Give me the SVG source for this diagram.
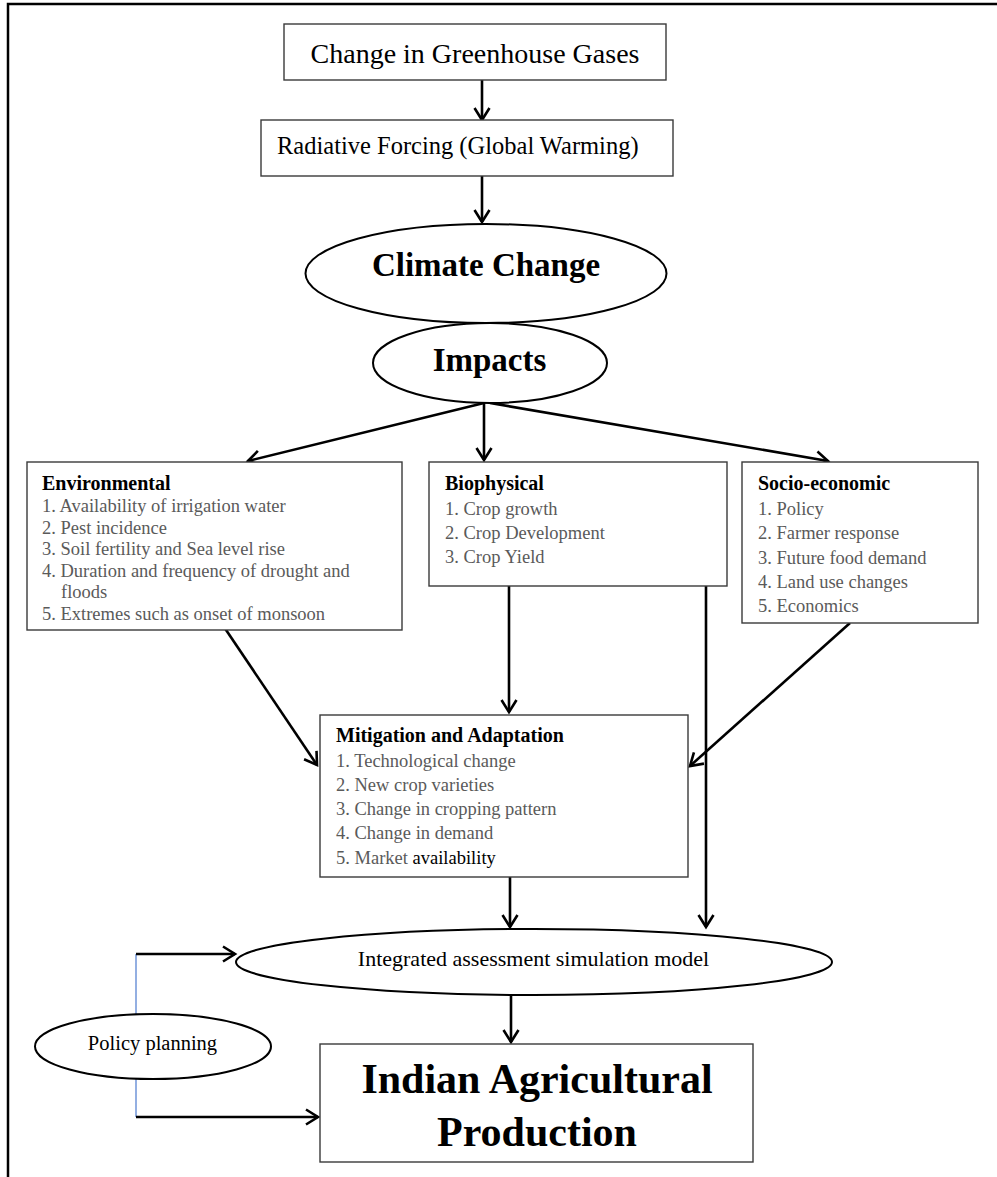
<svg xmlns="http://www.w3.org/2000/svg" width="997" height="1177" viewBox="0 0 997 1177">
<style>
.bx{fill:#fff;stroke:#3a3a3a;stroke-width:1.4}
.el{fill:#fff;stroke:#000;stroke-width:2}
.t{font-family:"Liberation Serif","Times New Roman",serif;fill:#000}
.h{font-family:"Liberation Serif","Times New Roman",serif;font-weight:bold;fill:#000}
.i{font-family:"Liberation Serif","Times New Roman",serif;font-size:18.5px;fill:#5a5a5a}
.c{fill:none;stroke:#000;stroke-width:2.6}
</style>
<defs>
<marker id="ah" markerUnits="userSpaceOnUse" markerWidth="18" markerHeight="20" refX="14" refY="9" orient="auto">
<path d="M2,1.5 L14,9 L2,16.5" fill="none" stroke="#000" stroke-width="2.6"/>
</marker>
</defs>
<rect width="997" height="1177" fill="#fff"/>
<g id="frame">
<path d="M8,1177 L8,4 L997,4" fill="none" stroke="#000" stroke-width="2.5"/>
</g>
<g id="connectors">
<line class="c" x1="482" y1="80" x2="482" y2="120" marker-end="url(#ah)"/>
<line class="c" x1="482" y1="176" x2="482" y2="222" marker-end="url(#ah)"/>
<line class="c" x1="484" y1="403" x2="248" y2="461" marker-end="url(#ah)"/>
<line class="c" x1="484" y1="403" x2="484" y2="460" marker-end="url(#ah)"/>
<line class="c" x1="490" y1="403" x2="828" y2="461" marker-end="url(#ah)"/>
<line class="c" x1="220" y1="621" x2="317" y2="765" marker-end="url(#ah)"/>
<line class="c" x1="509" y1="586" x2="509" y2="712" marker-end="url(#ah)"/>
<line class="c" x1="706" y1="586" x2="706" y2="927" marker-end="url(#ah)"/>
<line class="c" x1="850" y1="623" x2="690" y2="766" marker-end="url(#ah)"/>
<line class="c" x1="510" y1="877" x2="510" y2="927" marker-end="url(#ah)"/>
<line class="c" x1="511" y1="983" x2="511" y2="1042" marker-end="url(#ah)"/>
<line x1="136" y1="954" x2="136" y2="1117" stroke="#6f95d8" stroke-width="1.5"/>
<line class="c" x1="136" y1="954" x2="235" y2="954" marker-end="url(#ah)"/>
<line class="c" x1="136" y1="1117" x2="318" y2="1117" marker-end="url(#ah)"/>
</g>
<g id="ghg">
<rect class="bx" x="284" y="24" width="382" height="56"/>
<text class="t" x="475" y="63" font-size="28" text-anchor="middle">Change in Greenhouse Gases</text>
</g>
<g id="radiative">
<rect class="bx" x="261" y="120" width="412" height="56"/>
<text class="t" x="277" y="154" font-size="24.5">Radiative Forcing (Global Warming)</text>
</g>
<g id="climate">
<ellipse class="el" cx="486" cy="273.5" rx="180.5" ry="49.5"/>
<text class="h" x="486" y="276" font-size="33" text-anchor="middle">Climate Change</text>
</g>
<g id="impacts">
<ellipse class="el" cx="490" cy="363" rx="117" ry="40"/>
<text class="h" x="489.5" y="371" font-size="33" text-anchor="middle">Impacts</text>
</g>
<g id="environmental">
<rect class="bx" x="27" y="462" width="375" height="168"/>
<text class="h" x="42" y="490" font-size="20">Environmental</text>
<text class="i" x="42" y="512">1. Availability of irrigation water</text>
<text class="i" x="42" y="533.5">2. Pest incidence</text>
<text class="i" x="42" y="555">3. Soil fertility and Sea level rise</text>
<text class="i" x="42" y="576.5">4. Duration and frequency of drought and</text>
<text class="i" x="61" y="598">floods</text>
<text class="i" x="42" y="619.5">5. Extremes such as onset of monsoon</text>
</g>
<g id="biophysical">
<rect class="bx" x="429" y="462" width="298" height="124"/>
<text class="h" x="445" y="490" font-size="20">Biophysical</text>
<text class="i" x="445" y="515">1. Crop growth</text>
<text class="i" x="445" y="539">2. Crop Development</text>
<text class="i" x="445" y="563">3. Crop Yield</text>
</g>
<g id="socioeconomic">
<rect class="bx" x="742" y="462" width="236" height="161"/>
<text class="h" x="758" y="490" font-size="20">Socio-economic</text>
<text class="i" x="758" y="515">1. Policy</text>
<text class="i" x="758" y="539">2. Farmer response</text>
<text class="i" x="758" y="564">3. Future food demand</text>
<text class="i" x="758" y="588">4. Land use changes</text>
<text class="i" x="758" y="612">5. Economics</text>
</g>
<g id="mitigation">
<rect class="bx" x="320" y="715" width="368" height="162"/>
<text class="h" x="336" y="742" font-size="20">Mitigation and Adaptation</text>
<text class="i" x="336" y="767">1. Technological change</text>
<text class="i" x="336" y="791">2. New crop varieties</text>
<text class="i" x="336" y="815">3. Change in cropping pattern</text>
<text class="i" x="336" y="839">4. Change in demand</text>
<text class="i" x="336" y="864">5. Market <tspan fill="#000">availability</tspan></text>
</g>
<g id="integrated">
<ellipse class="el" cx="534" cy="962" rx="298" ry="33"/>
<text class="t" x="533.5" y="966" font-size="22" text-anchor="middle">Integrated assessment simulation model</text>
</g>
<g id="policy">
<ellipse class="el" cx="153" cy="1046.5" rx="118" ry="32.5"/>
<text class="t" x="152.5" y="1050" font-size="20.5" text-anchor="middle">Policy planning</text>
</g>
<g id="production">
<rect class="bx" x="320" y="1044" width="433" height="118"/>
<text class="h" x="537" y="1093" font-size="42" text-anchor="middle">Indian Agricultural</text>
<text class="h" x="537" y="1146" font-size="42" text-anchor="middle">Production</text>
</g>
</svg>
